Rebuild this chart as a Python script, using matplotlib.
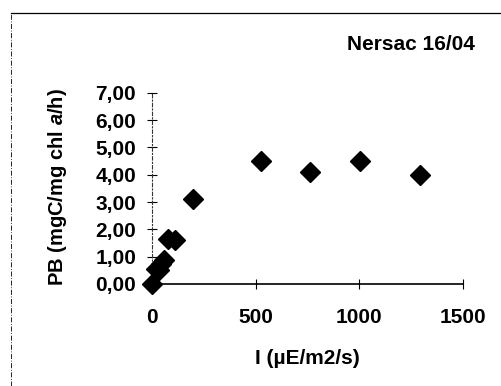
import matplotlib
matplotlib.use("Agg")
import matplotlib.pyplot as plt
from matplotlib.lines import Line2D

irradiance = [0, 20, 32, 45, 56, 79, 109, 198, 524, 762, 1001, 1294]
pb = [0.0, 0.55, 0.50, 0.72, 0.88, 1.66, 1.61, 3.12, 4.51, 4.11, 4.50, 3.99]
yticks = [0, 1, 2, 3, 4, 5, 6, 7]
ytick_labels = ["0,00", "1,00", "2,00", "3,00", "4,00", "5,00", "6,00", "7,00"]
xticks = [0, 500, 1000, 1500]
xtick_labels = ["0", "500", "1000", "1500"]

plt.rcParams['font.family'] = ['Liberation Sans', 'DejaVu Sans']
plt.rcParams['mathtext.fontset'] = 'custom'
plt.rcParams['mathtext.bfit'] = 'Liberation Sans:italic:bold'
plt.rcParams['mathtext.it'] = 'Liberation Sans:italic:bold'

FS = 15
fig = plt.figure(figsize=(5.02, 3.86), dpi=100)
W, H = 502, 386
x0, x1, y0, y1 = 152, 463, 284, 92.7
ax = fig.add_axes([x0 / W, 1 - y0 / H, (x1 - x0) / W, (y0 - y1) / H])

ax.plot(irradiance, pb, linestyle='none', marker='D', markersize=10.5,
        color='black', clip_on=False, zorder=5)

ax.set_xlim(0, 1500)
ax.set_ylim(0, 7)
ax.set_xticks(xticks)
ax.set_xticklabels(xtick_labels)
ax.set_yticks(yticks)
ax.set_yticklabels(ytick_labels)

for s in ['top', 'right']:
    ax.spines[s].set_visible(False)
ax.spines['left'].set_linestyle((0, (3, 2, 1, 2)))
ax.spines['left'].set_linewidth(0.8)
ax.spines['left'].set_color('#333333')
ax.spines['bottom'].set_linewidth(1.2)
ax.spines['bottom'].set_color('black')

ax.tick_params(axis='both', direction='inout', length=7, width=0.8,
               labelsize=FS)
ax.tick_params(axis='y', pad=8)
ax.tick_params(axis='x', pad=14)
for lab in ax.get_xticklabels() + ax.get_yticklabels():
    lab.set_fontweight('bold')

ax.set_xlabel("I (µE/m2/s)", fontsize=FS, fontweight='bold')
ax.set_ylabel("PB (mgC/mg chl $\\mathit{a}$/h)", fontsize=14.5, fontweight='bold')
ax.yaxis.set_label_coords((57.5 - x0) / (x1 - x0), (y0 - 187.5) / (y0 - y1))
ax.yaxis.label.set_va('center')
ax.xaxis.set_label_coords((307 - x0) / (x1 - x0), -(358 - y0) / (y0 - y1))
ax.xaxis.label.set_va('center')

fig.text(411 / W, 1 - 45 / H, "Nersac 16/04", fontsize=FS, fontweight='bold',
         ha='center', va='center')

# frame lines (top and left)
fig.add_artist(Line2D([11 / W, 1], [1 - 13 / H, 1 - 13 / H], color='black', lw=0.9,
                      transform=fig.transFigure))
fig.add_artist(Line2D([11 / W, 11 / W], [0, 1 - 13 / H], color='black', lw=0.6,
                      linestyle=(0, (6, 2, 1, 2)), transform=fig.transFigure))

fig.savefig("out.png", dpi=100)
